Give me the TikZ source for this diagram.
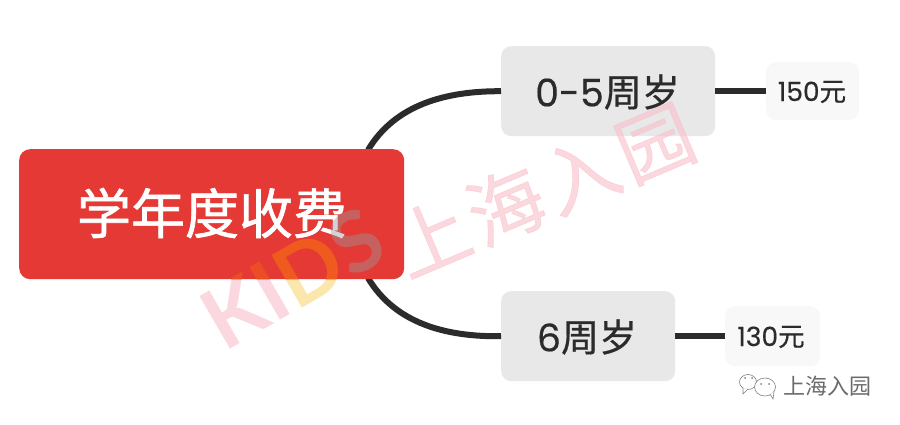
\documentclass[tikz,border=0pt]{standalone}
\usepackage{fontspec}
\setmainfont{Noto Sans CJK SC}
\newfontfamily\cjkm[FakeBold=0.5]{Noto Sans CJK SC}
\newfontfamily\cjkb[FakeBold=1.2]{Noto Sans CJK SC}
\newfontfamily\lat[FakeBold=0.4]{Poppins}
\newfontfamily\wmf{Lato}
\definecolor{redbox}{HTML}{E53935}
\definecolor{greybox}{HTML}{E8E8E9}
\definecolor{lightbox}{HTML}{F8F8F9}
\definecolor{ink}{HTML}{2B2B2B}
\definecolor{wm}{HTML}{F9BFCA}
\tikzset{
  x=1pt,y=-1pt,
  boxn/.style={rounded corners=10pt,inner sep=0pt,anchor=north west},
  link/.style={draw=ink,line width=6pt},
  wmtext/.style={text=wm,opacity=.62,rotate=23,font=\cjkm\fontsize{76}{76}\selectfont},
  kidstext/.style={rotate=30,inner sep=0pt,font=\wmf\bfseries\fontsize{84}{84}\selectfont},
  bubble/.style={draw=ink!60,fill=white,line width=.6pt}
}
\begin{document}
\begin{tikzpicture}
\useasboundingbox (0,0) rectangle (900,425);
\fill[white] (0,0) rectangle (900,425);
\node[boxn,fill=greybox,minimum width=214pt,minimum height=90pt] (a) at (501,46) {};
\node[boxn,fill=greybox,minimum width=174pt,minimum height=90pt] (b) at (501,291) {};
\node[boxn,fill=lightbox,minimum width=93pt,minimum height=58pt] (c) at (766,62) {};
\node[boxn,fill=lightbox,minimum width=95pt,minimum height=60pt] (d) at (725,306) {};
\coordinate (rt) at (368,150);
\coordinate (rb) at (368,278);
\draw[link] (rt) .. controls (395,105) and (445,91) .. (a.west);
\draw[link] (rb) .. controls (395,323) and (445,337) .. (b.west);
\draw[link] (a.east) -- (c.west);
\draw[link] (b.east) -- (d.west);
% KIDS beneath the red box: pale tints on white
\node[kidstext,text=wm,opacity=.6] (w1) at (293,278) {KI\textcolor{yellow!40!wm}{D}S};
\node[boxn,fill=redbox,rounded corners=11pt,minimum width=385pt,minimum height=130pt] (r) at (19,149) {};
\node[text=white,font=\cjkb\fontsize{54}{54}\selectfont] (rl) at (212,213) {学年度收费};
% KIDS where it crosses the red box
\begin{scope}
\clip[rounded corners=11pt] (19,149) rectangle (404,279);
\node[kidstext,text=orange!70!redbox,opacity=.42] (w1b) at (293,278) {KI\textcolor{orange!90!yellow}{D}\textcolor{gray!80}{S}};
\end{scope}
\node[text=ink,font=\fontsize{38}{38}\selectfont] (al) at (607.5,92) {{\lat 0-5}{\cjkm 周岁}};
\node[text=ink,font=\fontsize{38}{38}\selectfont] (bl) at (587,337) {{\lat 6}{\cjkm 周岁}};
\node[text=ink,font=\fontsize{26.5}{26.5}\selectfont] (cl) at (812,92) {{\lat 150}{\cjkm 元}};
\node[text=ink,font=\fontsize{26.5}{26.5}\selectfont] (dl) at (771,337) {{\lat 130}{\cjkm 元}};
\node[wmtext] (w2) at (543,190) {上\hspace{5pt}海\hspace{5pt}入\hspace{5pt}园};
\node[text=ink!70,font=\fontsize{22}{22}\selectfont] (wx) at (827,386) {上海入园};
\draw[bubble] (748,382) ellipse (8.5pt and 7.5pt);
\draw[bubble] (743,388) -- (743,394) -- (748,389);
\draw[bubble] (765,387) ellipse (10.5pt and 9pt);
\draw[bubble] (770,394) -- (773,399) -- (774,392);
\fill[ink!60] (745,378) circle (1pt) (752,378) circle (1pt) (761,384) circle (1pt) (769,384) circle (1pt);
\end{tikzpicture}
\end{document}
